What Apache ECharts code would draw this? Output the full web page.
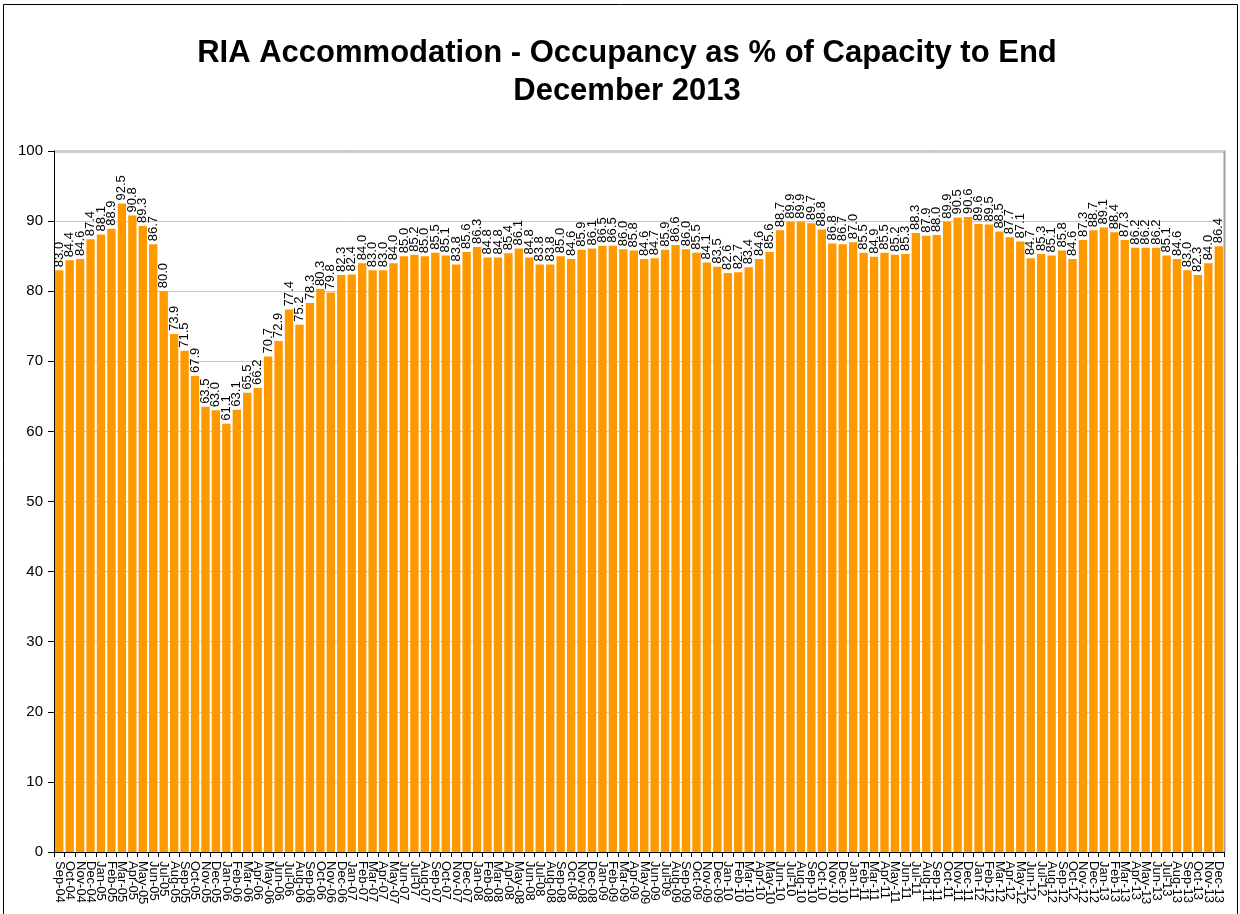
<!DOCTYPE html>
<html>
<head>
<meta charset="utf-8">
<script src="https://cdn.jsdelivr.net/npm/echarts@6/dist/echarts.min.js"></script>
<style>
  html, body { margin: 0; padding: 0; background: #fff; }
  #main { width: 1240px; height: 914px; }
</style>
</head>
<body>
<div id="main"></div>
<script>
// 月份 (Sep-04 .. Dec-13)
var months = [
  'Sep-04', 'Oct-04', 'Nov-04', 'Dec-04',
  'Jan-05', 'Feb-05', 'Mar-05', 'Apr-05', 'May-05', 'Jun-05', 'Jul-05', 'Aug-05', 'Sep-05', 'Oct-05', 'Nov-05', 'Dec-05',
  'Jan-06', 'Feb-06', 'Mar-06', 'Apr-06', 'May-06', 'Jun-06', 'Jul-06', 'Aug-06', 'Sep-06', 'Oct-06', 'Nov-06', 'Dec-06',
  'Jan-07', 'Feb-07', 'Mar-07', 'Apr-07', 'May-07', 'Jun-07', 'Jul-07', 'Aug-07', 'Sep-07', 'Oct-07', 'Nov-07', 'Dec-07',
  'Jan-08', 'Feb-08', 'Mar-08', 'Apr-08', 'May-08', 'Jun-08', 'Jul-08', 'Aug-08', 'Sep-08', 'Oct-08', 'Nov-08', 'Dec-08',
  'Jan-09', 'Feb-09', 'Mar-09', 'Apr-09', 'May-09', 'Jun-09', 'Jul-09', 'Aug-09', 'Sep-09', 'Oct-09', 'Nov-09', 'Dec-09',
  'Jan-10', 'Feb-10', 'Mar-10', 'Apr-10', 'May-10', 'Jun-10', 'Jul-10', 'Aug-10', 'Sep-10', 'Oct-10', 'Nov-10', 'Dec-10',
  'Jan-11', 'Feb-11', 'Mar-11', 'Apr-11', 'May-11', 'Jun-11', 'Jul-11', 'Aug-11', 'Sep-11', 'Oct-11', 'Nov-11', 'Dec-11',
  'Jan-12', 'Feb-12', 'Mar-12', 'Apr-12', 'May-12', 'Jun-12', 'Jul-12', 'Aug-12', 'Sep-12', 'Oct-12', 'Nov-12', 'Dec-12',
  'Jan-13', 'Feb-13', 'Mar-13', 'Apr-13', 'May-13', 'Jun-13', 'Jul-13', 'Aug-13', 'Sep-13', 'Oct-13', 'Nov-13', 'Dec-13'
];

// occupancy as % of capacity
var occupancy = [
  83.0, 84.4, 84.6, 87.4,
  88.1, 88.9, 92.5, 90.8, 89.3, 86.7, 80.0, 73.9, 71.5, 67.9, 63.5, 63.0,
  61.1, 63.1, 65.5, 66.2, 70.7, 72.9, 77.4, 75.2, 78.3, 80.3, 79.8, 82.3,
  82.4, 84.0, 83.0, 83.0, 84.0, 85.0, 85.2, 85.0, 85.5, 85.1, 83.8, 85.6,
  86.3, 84.8, 84.8, 85.4, 86.1, 84.8, 83.8, 83.8, 85.0, 84.6, 85.9, 86.1,
  86.5, 86.5, 86.0, 85.8, 84.6, 84.7, 85.9, 86.6, 86.0, 85.5, 84.1, 83.5,
  82.6, 82.7, 83.4, 84.6, 85.6, 88.7, 89.9, 89.9, 89.7, 88.8, 86.8, 86.7,
  87.0, 85.5, 84.9, 85.5, 85.2, 85.3, 88.3, 87.9, 88.0, 89.9, 90.5, 90.6,
  89.6, 89.5, 88.5, 87.7, 87.1, 84.7, 85.3, 85.1, 85.8, 84.6, 87.3, 88.7,
  89.1, 88.4, 87.3, 86.2, 86.2, 86.2, 85.1, 84.6, 83.0, 82.3, 84.0, 86.4
];

var titleText = 'RIA Accommodation - Occupancy as % of Capacity to End\nDecember 2013';
var font = 'Arial, "Liberation Sans", sans-serif';

var myChart = echarts.init(document.getElementById('main'));

var option = {
  backgroundColor: '#fff',
  animation: false,
  textStyle: { fontFamily: font },
  title: {
    text: titleText,
    left: 622,
    textAlign: 'center',
    top: 29,
    textStyle: {
      fontFamily: font,
      fontSize: 31,
      fontWeight: 'bold',
      color: '#000',
      lineHeight: 38
    }
  },
  // 外框
  graphic: [{
    type: 'rect',
    shape: { x: 3.5, y: 4.5, width: 1234, height: 930 },
    style: { fill: 'none', stroke: '#000', lineWidth: 1 },
    silent: true
  }, {
    // plot area border (top / right)
    type: 'polyline',
    shape: { points: [[54, 151.5], [1224.5, 151.5], [1224.5, 852]] },
    style: { fill: 'none', stroke: '#a0a0a0', lineWidth: 2 },
    silent: true,
    z: 0
  }],
  grid: {
    left: 54,
    right: 16,
    top: 151,
    bottom: 62,
    containLabel: false
  },
  xAxis: {
    type: 'category',
    data: months,
    axisLine: { lineStyle: { color: '#000', width: 1 } },
    axisTick: { show: true, length: 5, lineStyle: { color: '#000' } },
    axisLabel: {
      interval: 0,
      rotate: -90,
      fontSize: 13,
      color: '#000',
      margin: 9
    }
  },
  yAxis: {
    type: 'value',
    min: 0,
    max: 100,
    interval: 10,
    axisLine: { show: true, lineStyle: { color: '#000', width: 1 } },
    axisTick: { show: true, length: 6, lineStyle: { color: '#000' } },
    axisLabel: { fontSize: 15, color: '#000', margin: 11 },
    splitLine: { show: true, lineStyle: { color: '#c8c8c8', width: 1 } }
  },
  series: [{
    name: 'Occupancy',
    type: 'bar',
    data: occupancy,
    barCategoryGap: '20%',
    itemStyle: { color: '#FF9900' },
    label: {
      show: true,
      position: 'top',
      rotate: 90,
      align: 'left',
      verticalAlign: 'middle',
      distance: 3,
      fontSize: 13,
      color: '#000',
      formatter: function (p) { return p.value.toFixed(1); }
    }
  }]
};

myChart.setOption(option);
</script>
</body>
</html>
